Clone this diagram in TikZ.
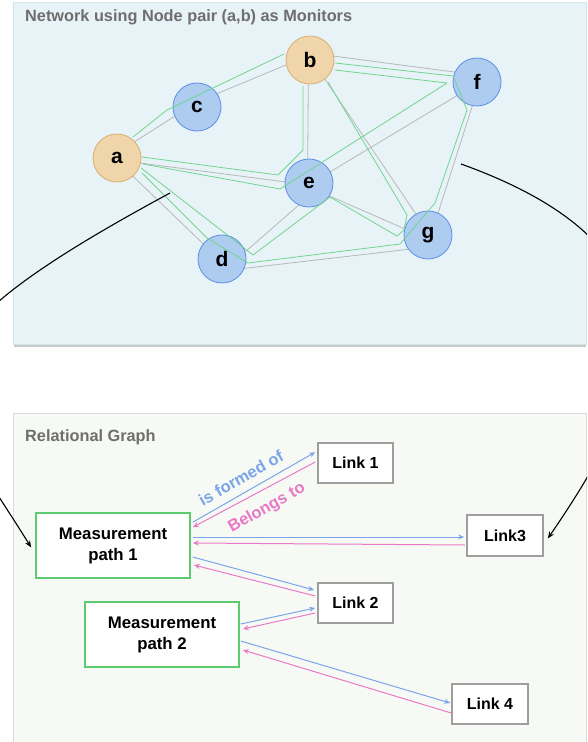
\documentclass[tikz,border=0pt]{standalone}
\usepackage{fontspec}
\setmainfont{Liberation Sans}
\usetikzlibrary{arrows.meta,calc}
\definecolor{panelA}{HTML}{E8F3F8}
\definecolor{panelAb}{HTML}{D5E3EA}
\definecolor{panelB}{HTML}{F7FAF4}
\definecolor{panelBb}{HTML}{DCDCDC}
\definecolor{shadowc}{HTML}{CBCBCB}
\definecolor{titlec}{HTML}{6E6E6E}
\definecolor{orfill}{HTML}{F0D5AA}
\definecolor{ordraw}{HTML}{D6B06E}
\definecolor{blfill}{HTML}{AECBF0}
\definecolor{bldraw}{HTML}{5B8FE6}
\definecolor{grline}{HTML}{B8B8B8}
\definecolor{gnline}{HTML}{6FD58E}
\definecolor{boxgreen}{HTML}{5CCB70}
\definecolor{boxgray}{HTML}{9E9E9E}
\definecolor{arrblue}{HTML}{7BA4EA}
\definecolor{arrpink}{HTML}{E879C6}
\pgfdeclarelayer{panel}
\pgfdeclarelayer{edges}
\pgfsetlayers{panel,edges,main}
\tikzset{
  vtx/.style={circle, minimum size=48pt, inner sep=0pt, line width=0.8pt,
    font=\bfseries\fontsize{21}{21}\selectfont},
  mon/.style={vtx, fill=orfill, draw=ordraw},
  rel/.style={vtx, fill=blfill, draw=bldraw},
  gedge/.style={grline, line width=0.8pt},
  gpath/.style={gnline, line width=0.8pt, line join=round},
  title/.style={anchor=west, text=titlec, font=\bfseries\fontsize{16.3}{18}\selectfont, inner sep=0pt},
  mpbox/.style={draw=boxgreen, fill=white, line width=1.6pt, minimum width=154pt, minimum height=65pt,
    align=center, inner sep=0pt, font=\bfseries\fontsize{16.8}{21}\selectfont},
  linkbox/.style={draw=boxgray, fill=white, line width=1.6pt, minimum width=75pt, minimum height=40pt,
    inner sep=0pt, font=\bfseries\fontsize{16}{18}\selectfont},
  barr/.style={arrblue, line width=1pt, -{Stealth[length=6pt,width=5pt]}},
  parr/.style={arrpink, line width=1pt, -{Stealth[length=6pt,width=5pt]}},
  curvearr/.style={black, line width=1.1pt, -{Stealth[length=7pt,width=5.5pt]}},
  rellabel/.style={font=\bfseries\fontsize{16.5}{16.5}\selectfont, rotate=29.5, inner sep=0pt},
}
\begin{document}
\begin{tikzpicture}[x=1pt,y=-1pt]
\useasboundingbox (0,0) rectangle (587,742);
\begin{pgfonlayer}{panel}
\fill[white] (0,0) rectangle (587,742);
\fill[shadowc] (14,4) rectangle (586,346.5);
\filldraw[fill=panelA, draw=panelAb, line width=0.6pt] (13,2) rectangle (586,344);
\filldraw[fill=panelB, draw=panelBb, line width=0.8pt] (13,413) rectangle (586,742.5);
\end{pgfonlayer}

\node[title] (t1) at (25,17) {Network using Node pair (a,b) as Monitors};
\node[title] (t2) at (25,437) {Relational Graph};

% network nodes
\node[mon] (a) at (117,158) {a};
\node[mon] (b) at (310,60) {b};
\node[rel] (c) at (197,107) {c};
\node[rel] (d) at (222,259) {d};
\node[rel] (e) at (309,183) {e};
\node[rel] (f) at (477,82) {f};
\node[rel] (g) at (428,235) {g};

% gray links (behind nodes)
\begin{pgfonlayer}{edges}
\draw[gedge] ([shift={(0,-5)}]a.center) -- ([shift={(0,-5)}]c.center);
\draw[gedge] ([shift={(0,-5)}]c.center) -- ([shift={(0,-5)}]b.center);
\draw[gedge] ([shift={(-1.5,0)}]b.center) -- ([shift={(-1.5,0)}]e.center);
\draw[gedge] ([shift={(0,-7)}]b.center) -- ([shift={(0,-7)}]f.center);
\draw[gedge] ([shift={(2,0)}]b.center) -- ([shift={(2,0)}]g.center);
\draw[gedge] ([shift={(0,2)}]a.center) -- ([shift={(0,2)}]e.center);
\draw[gedge] ([shift={(-3,0)}]a.center) -- ([shift={(-3,0)}]d.center);
\draw[gedge] ([shift={(7,7)}]d.center) -- ([shift={(7,7)}]e.center);
\draw[gedge] ([shift={(0,12)}]d.center) -- ([shift={(0,12)}]g.center);
\draw[gedge] ([shift={(0,4)}]e.center) -- ([shift={(0,4)}]g.center);
\draw[gedge] ([shift={(1,1)}]e.center) -- ([shift={(1,1)}]f.center);
\draw[gedge] ([shift={(3,0)}]f.center) -- ([shift={(3,0)}]g.center);
\end{pgfonlayer}

% green measurement paths (over nodes)
\draw[gpath] (133,137) -- (167,110) -- (284,54);
\draw[gpath] (142,157) -- (278,175) -- (303,150) -- (303,86);
\draw[gpath] (143,164) -- (280,189) -- (447,83) -- (335,70);
\draw[gpath] (142,173) -- (207,238) -- (248,263) -- (400,244) -- (435,203) -- (467,110) -- (453,76) -- (335,63);
\draw[gpath] (141,168) -- (253,255) -- (330,197) -- (397,236) -- (404,230) -- (407,215) -- (328,82);

% relational graph
\node[mpbox] (mp1) at (113,545.5) {Measurement\\path 1};
\node[mpbox] (mp2) at (162,634.5) {Measurement\\path 2};
\node[linkbox] (l1) at (355.5,463) {Link 1};
\node[linkbox, minimum width=76pt, minimum height=41pt] (l3) at (505,535.5) {Link3};
\node[linkbox] (l2) at (355.5,603) {Link 2};
\node[linkbox, minimum width=76pt] (l4) at (490,704) {Link 4};

\draw[barr] ($(mp1.north east)+(2,10)$) -- ($(l1.north west)+(-2,10)$);
\draw[parr] ($(l1.west)+(-2,-1)$) -- ($(mp1.north east)+(2,15)$);
\draw[barr] ($(mp1.east)+(2,-8.5)$) -- ($(l3.west)+(-2,1.5)$);
\draw[parr] ($(l3.west)+(-1,9.5)$) -- ($(mp1.east)+(2,-2.5)$);
\draw[barr] ($(mp1.east)+(2,11.5)$) -- ($(l2.west)+(-3,-13)$);
\draw[parr] ($(l2.west)+(-2,-7)$) -- ($(mp1.east)+(3,19.5)$);
\draw[barr] ($(mp2.east)+(1,-10.5)$) -- ($(l2.west)+(-2,5)$);
\draw[parr] ($(l2.west)+(-2,10)$) -- ($(mp2.east)+(3,-5.5)$);
\draw[barr] ($(mp2.east)+(1,6.5)$) -- ($(l4.west)+(-1,-1)$);
\draw[parr] ($(l4.west)+(0,9)$) -- ($(mp2.east)+(3,15.5)$);

\node[rellabel, text=arrblue] (lf) at (241,478) {is formed of};
\node[rellabel, text=arrpink] (lb) at (267,508) {Belongs to};

% long curved connectors
\coordinate (cl) at (170,193);
\coordinate (cr) at (461,164);
\begin{scope}
\clip (0,0) rectangle (587,742);
\draw[curvearr] (cl) .. controls (-130,355) and (-69,386) .. ($(mp1.west)+(-4,2)$);
\draw[curvearr] (cr) .. controls (715,255) and (640,404) .. ($(l3.east)+(4,3)$);
\end{scope}
\end{tikzpicture}
\end{document}
